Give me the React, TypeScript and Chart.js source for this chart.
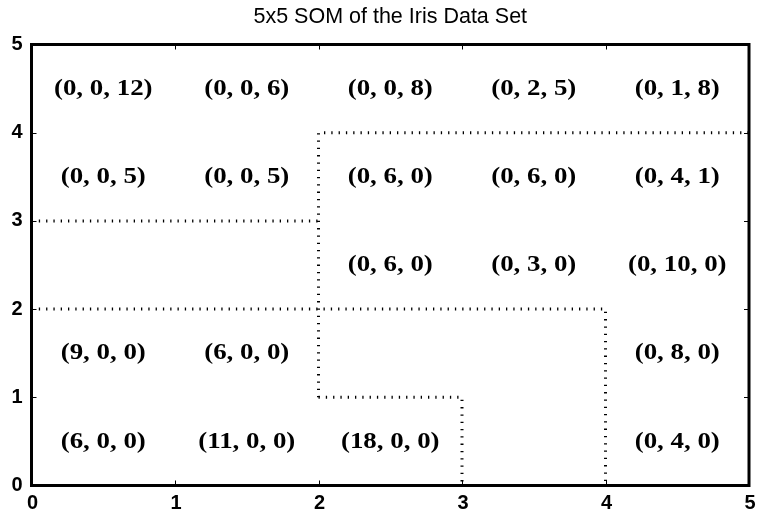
import React, { useEffect, useRef } from 'react';
import { Chart, registerables } from 'chart.js';

Chart.register(...registerables);

const TITLE = '5x5 SOM of the Iris Data Set';
const X_TICKS = [0, 1, 2, 3, 4, 5];
const Y_TICKS = [0, 1, 2, 3, 4, 5];
const X_TICK_LABELS = ['0', '1', '2', '3', '4', '5'];
const Y_TICK_LABELS = ['0', '1', '2', '3', '4', '5'];

// SOM node centres: columns left->right, rows top->bottom
const NODE_X = [0.5, 1.5, 2.5, 3.5, 4.5];
const NODE_Y = [4.5, 3.5, 2.5, 1.5, 0.5];

// hits per node (row-major, top row first): (setosa, versicolor, virginica)
const SETOSA = [
  0, 0, 0, 0, 0,
  0, 0, 0, 0, 0,
  0, 0, 0, 0, 0,
  9, 6, 0, 0, 0,
  6, 11, 18, 0, 0,
];
const VERSICOLOR = [
  0, 0, 0, 2, 1,
  0, 0, 6, 6, 4,
  0, 0, 6, 3, 10,
  0, 0, 0, 0, 8,
  0, 0, 0, 0, 4,
];
const VIRGINICA = [
  12, 6, 8, 5, 8,
  5, 5, 0, 0, 1,
  0, 0, 0, 0, 0,
  0, 0, 0, 0, 0,
  0, 0, 0, 0, 0,
];

// cluster boundaries (dotted polylines)
const BOUND1_X = [0, 2];
const BOUND1_Y = [3, 3];
const BOUND2_X = [2, 2, 5];
const BOUND2_Y = [1, 4, 4];
const BOUND3_X = [0, 4, 4];
const BOUND3_Y = [2, 2, 0];
const BOUND4_X = [2, 3, 3];
const BOUND4_Y = [1, 1, 0];

const LABEL_STRETCH = 1.12;

const toPts = (xs: number[], ys: number[]) => xs.map((x, i) => ({ x, y: ys[i] }));

const overlay = {
  id: 'somOverlay',
  afterDatasetsDraw(chart: any) {
    const { ctx, chartArea } = chart;
    const { left, right, top, bottom } = chartArea;
    const xs = chart.scales.x;
    const ys = chart.scales.y;
    ctx.save();
    // node labels
    ctx.font = 'bold 24px "Liberation Serif"';
    ctx.textAlign = 'center';
    ctx.textBaseline = 'middle';
    ctx.fillStyle = '#000';
    NODE_Y.forEach((ny, r) => {
      NODE_X.forEach((nx, c) => {
        const i = r * NODE_X.length + c;
        const a = SETOSA[i], b = VERSICOLOR[i], g = VIRGINICA[i];
        if (a + b + g === 0) return;
        const px = xs.getPixelForValue(nx);
        const py = ys.getPixelForValue(ny);
        ctx.save();
        ctx.translate(px, py);
        ctx.scale(LABEL_STRETCH, 1);
        ctx.fillText(`(${a}, ${b}, ${g})`, 0, 0);
        ctx.restore();
      });
    });
    // inward tick marks on all four sides
    ctx.strokeStyle = '#000';
    ctx.lineWidth = 1;
    ctx.beginPath();
    X_TICKS.forEach((v) => {
      const p = Math.round(xs.getPixelForValue(v)) + 0.5;
      ctx.moveTo(p, bottom);
      ctx.lineTo(p, bottom - 5);
      ctx.moveTo(p, top);
      ctx.lineTo(p, top + 5);
    });
    Y_TICKS.forEach((v) => {
      const p = Math.round(ys.getPixelForValue(v)) + 0.5;
      ctx.moveTo(left, p);
      ctx.lineTo(left + 5, p);
      ctx.moveTo(right, p);
      ctx.lineTo(right - 5, p);
    });
    ctx.stroke();
    // box
    ctx.lineWidth = 3;
    ctx.strokeRect(left, top, right - left, bottom - top);
    // tick labels
    ctx.font = 'bold 20px "Liberation Sans"';
    ctx.textBaseline = 'middle';
    ctx.textAlign = 'center';
    X_TICKS.forEach((v, i) => {
      ctx.fillText(X_TICK_LABELS[i], xs.getPixelForValue(v) + 1, bottom + 18);
    });
    ctx.textAlign = 'right';
    Y_TICKS.forEach((v, i) => {
      ctx.fillText(Y_TICK_LABELS[i], left - 9, ys.getPixelForValue(v));
    });
    // title
    ctx.font = '21.5px "Liberation Sans"';
    ctx.textAlign = 'center';
    ctx.textBaseline = 'middle';
    ctx.fillText(TITLE, (left + right) / 2, 17.5);
    ctx.restore();
  },
};

export default function App() {
  const ref = useRef<HTMLCanvasElement>(null);
  useEffect(() => {
    if (!ref.current) return;
    const lineStyle = {
      showLine: true,
      pointRadius: 0,
      borderColor: '#000',
      borderWidth: 3,
      borderDash: [1.3, 6],
      fill: false,
    };
    const chart = new Chart(ref.current, {
      type: 'scatter',
      data: {
        datasets: [
          { ...lineStyle, data: toPts(BOUND1_X, BOUND1_Y) },
          { ...lineStyle, data: toPts(BOUND2_X, BOUND2_Y) },
          { ...lineStyle, data: toPts(BOUND3_X, BOUND3_Y) },
          { ...lineStyle, data: toPts(BOUND4_X, BOUND4_Y) },
        ] as any,
      },
      options: {
        animation: false,
        responsive: true,
        maintainAspectRatio: false,
        layout: { padding: { top: 44.5, right: 8, left: 0, bottom: 0 } },
        plugins: { legend: { display: false }, tooltip: { enabled: false }, title: { display: false } },
        scales: {
          x: {
            type: 'linear',
            min: 0,
            max: 5,
            grid: { display: false },
            border: { display: false },
            ticks: { display: false },
            afterFit: (s: any) => { s.height = 28.5; },
          },
          y: {
            type: 'linear',
            min: 0,
            max: 5,
            grid: { display: false },
            border: { display: false },
            ticks: { display: false },
            afterFit: (s: any) => { s.width = 31.5; },
          },
        },
      } as any,
      plugins: [overlay],
    });
    return () => chart.destroy();
  }, []);
  return (
    <div style={{ position: 'absolute', left: 0, top: 0, width: 757, height: 514, background: '#fff' }}>
      <canvas ref={ref} />
    </div>
  );
}
